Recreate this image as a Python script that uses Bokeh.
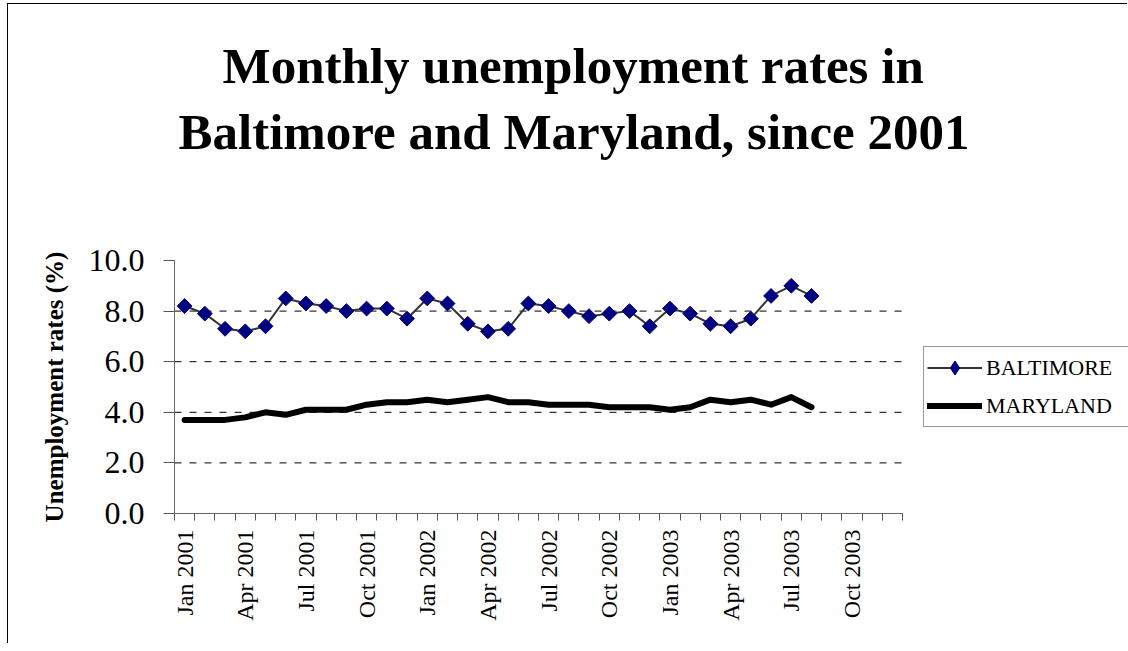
import math
from bokeh.plotting import figure
from bokeh.models import (Range1d, FixedTicker, Legend, LegendItem, Title,
                          NumeralTickFormatter)
from bokeh.embed import file_html
from bokeh.resources import INLINE

# ---- data ----
month_names = ["Jan", "Feb", "Mar", "Apr", "May", "Jun",
               "Jul", "Aug", "Sep", "Oct", "Nov", "Dec"]
years = [2001, 2002, 2003]
months = [f"{m} {y}" for y in years for m in month_names]

baltimore = [8.2, 7.9, 7.3, 7.2, 7.4, 8.5, 8.3, 8.2, 8.0, 8.1, 8.1, 7.7,
             8.5, 8.3, 7.5, 7.2, 7.3, 8.3, 8.2, 8.0, 7.8, 7.9, 8.0, 7.4,
             8.1, 7.9, 7.5, 7.4, 7.7, 8.6, 9.0, 8.6]
maryland = [3.7, 3.7, 3.7, 3.8, 4.0, 3.9, 4.1, 4.1, 4.1, 4.3, 4.4, 4.4,
            4.5, 4.4, 4.5, 4.6, 4.4, 4.4, 4.3, 4.3, 4.3, 4.2, 4.2, 4.2,
            4.1, 4.2, 4.5, 4.4, 4.5, 4.3, 4.6, 4.2]
x_idx = list(range(len(baltimore)))
y_ticks = [0, 2, 4, 6, 8, 10]
grid_ticks = [2, 4, 6, 8]
label_every = 3

title_line1 = "Monthly unemployment rates in"
title_line2 = "Baltimore and Maryland, since 2001"
y_label = "Unemployment rates (%)"

SERIF = "Liberation Serif"

# ---- layout (pixels) ----
W, H = 1120, 640
FL = 166            # frame left inside canvas
CAT_W = 728 / 36    # pixel width of one month category
x_start = -0.5
x_end = x_start + (W - FL) / CAT_W   # frame runs to canvas right edge
n_cat = len(months)

p = figure(width=W, height=H,
           x_range=Range1d(x_start, x_end),
           y_range=Range1d(0, 10),
           output_backend="svg", toolbar_location=None,
           min_border_left=FL, min_border_right=0,
           min_border_bottom=131, min_border_top=256)
p.styles = {"margin-left": "7px", "margin-top": "3px",
            "border-top": "1px solid black", "border-left": "1px solid black"}
p.outline_line_color = None
p.background_fill_color = "white"
p.border_fill_color = "white"

# titles (closest to frame first)
spacer = Title(text=" ", text_font_size="10px", standoff=84)
t2 = Title(text=title_line2, align="left", offset=4,
           text_font=SERIF, text_font_size="51px", text_font_style="bold",
           text_color="black", standoff=8)
t1 = Title(text=title_line1, align="left", offset=48,
           text_font=SERIF, text_font_size="51px", text_font_style="bold",
           text_color="black", standoff=8)
p.add_layout(spacer, "above")
p.add_layout(t2, "above")
p.add_layout(t1, "above")

# dashed horizontal gridlines spanning the category area only
p.xgrid.visible = False
p.ygrid.visible = False
p.segment(x0=[x_start] * len(grid_ticks), x1=[n_cat - 0.5] * len(grid_ticks),
          y0=grid_ticks, y1=grid_ticks,
          line_color="black", line_width=1, line_dash="7 8")

# x axis
xa = p.xaxis[0]
xa.bounds = (x_start, n_cat - 0.5)
xa.ticker = FixedTicker(ticks=list(range(0, n_cat, label_every)),
                        minor_ticks=[i - 0.5 for i in range(n_cat + 1)])
xa.major_label_overrides = {i: months[i] for i in range(0, n_cat, label_every)}
xa.major_label_orientation = math.pi / 2
xa.major_tick_in = 0
xa.major_tick_out = 0
xa.minor_tick_in = 0
xa.minor_tick_out = 7
xa.minor_tick_line_color = "#555555"
xa.axis_line_color = "#666666"
xa.major_label_standoff = 9
xa.major_label_text_font = SERIF
xa.major_label_text_font_size = "24px"
xa.major_label_text_color = "black"

# y axis
ya = p.yaxis[0]
ya.ticker = FixedTicker(ticks=y_ticks)
ya.formatter = NumeralTickFormatter(format="0.0")
ya.major_tick_in = 0
ya.major_tick_out = 11
ya.minor_tick_line_color = None
ya.major_tick_line_color = "#555555"
ya.axis_line_color = "#666666"
ya.major_label_standoff = 19
ya.major_label_text_font = SERIF
ya.major_label_text_font_size = "32px"
ya.major_label_text_color = "black"
ya.axis_label = y_label
ya.axis_label_text_font = SERIF
ya.axis_label_text_font_style = "bold"
ya.axis_label_text_font_size = "25px"
ya.axis_label_text_color = "black"
ya.axis_label_standoff = 18

# series
bl = p.line(x_idx, baltimore, line_color="#333333", line_width=2)
bm = p.scatter(x_idx, baltimore, marker="square", size=10.5, angle=math.pi / 4,
               fill_color="#000080", line_color="#000080")
ml = p.line(x_idx, maryland, line_color="black", line_width=6,
            line_cap="round", line_join="round")
# legend-only diamond key (legend glyphs ignore marker angle); hidden in plot
bm_key = p.scatter(x_idx, baltimore, marker="diamond", size=14,
                   fill_color="#000080", line_color="#000080", visible=False)

legend = Legend(items=[LegendItem(label="BALTIMORE", renderers=[bl, bm_key]),
                       LegendItem(label="MARYLAND", renderers=[ml])],
                location=(923 - 174, 513 - 427))
legend.border_line_color = "#333333"
legend.border_line_width = 1
legend.background_fill_color = "white"
legend.background_fill_alpha = 1
legend.inactive_fill_alpha = 0
legend.label_text_font = SERIF
legend.label_text_font_size = "22px"
legend.label_text_color = "black"
legend.label_width = 170
legend.glyph_width = 55
legend.glyph_height = 35
legend.label_standoff = 4
legend.padding = 3
legend.spacing = 3
legend.margin = 0
p.add_layout(legend, "center")

open("out.html", "w").write(file_html(p, INLINE))
